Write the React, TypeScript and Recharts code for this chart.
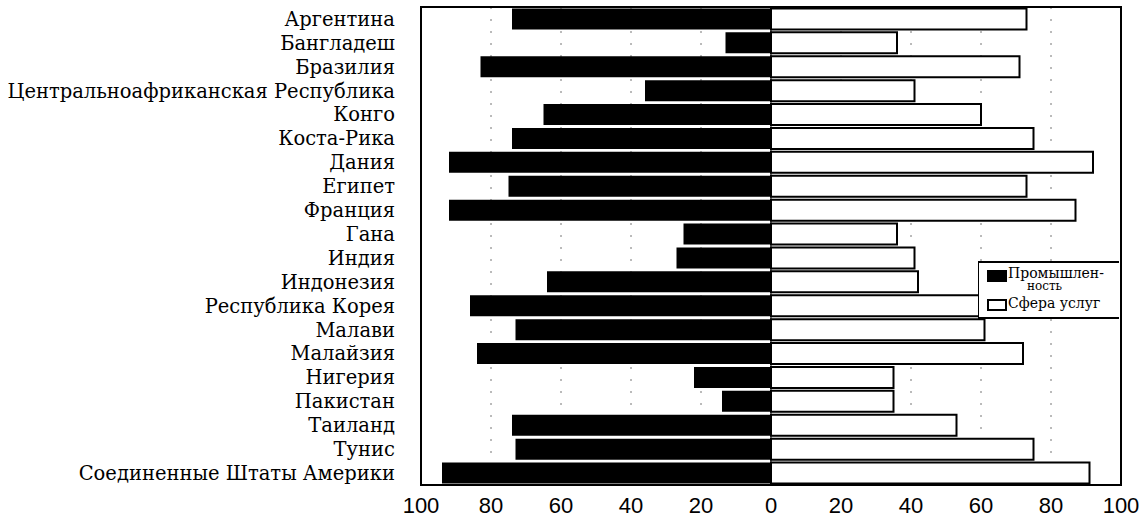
import { BarChart, Bar, XAxis, YAxis, CartesianGrid, ReferenceArea, ReferenceLine } from "recharts";

const countries = [
  "Аргентина",
  "Бангладеш",
  "Бразилия",
  "Центральноафриканская Республика",
  "Конго",
  "Коста-Рика",
  "Дания",
  "Египет",
  "Франция",
  "Гана",
  "Индия",
  "Индонезия",
  "Республика Корея",
  "Малави",
  "Малайзия",
  "Нигерия",
  "Пакистан",
  "Таиланд",
  "Тунис",
  "Соединенные Штаты Америки",
];

// Промышленность (drawn to the left)
const industry = [74, 13, 83, 36, 65, 74, 92, 75, 92, 25, 27, 64, 86, 73, 84, 22, 14, 74, 73, 94];
// Сфера услуг (drawn to the right)
const services = [73, 36, 71, 41, 60, 75, 92, 73, 87, 36, 41, 42, 64, 61, 72, 35, 35, 53, 75, 91];

const xTicks = [-100, -80, -60, -40, -20, 0, 20, 40, 60, 80, 100];

const data = countries.map((name, i) => ({
  name,
  industry: -industry[i],
  services: services[i],
}));

const serif = "'DejaVu Serif', serif";

function LegendBox() {
  return (
    <div
      style={{
        position: "absolute",
        left: 978,
        top: 261,
        width: 141,
        height: 58,
        background: "#fff",
        borderTop: "2px solid #000",
        borderBottom: "2px solid #000",
        borderLeft: "1px solid #000",
        boxSizing: "border-box",
        fontFamily: serif,
        fontSize: 14,
        color: "#000",
      }}
    >
      <div style={{ position: "absolute", left: 8, top: 7, width: 20, height: 12, background: "#000" }} />
      <div style={{ position: "absolute", left: 29, top: 3, lineHeight: "14px", whiteSpace: "nowrap" }}>Промышлен-</div>
      <div style={{ position: "absolute", left: 48, top: 17, lineHeight: "12px", fontSize: 12, whiteSpace: "nowrap" }}>ность</div>
      <div
        style={{
          position: "absolute",
          left: 8,
          top: 36,
          width: 20,
          height: 12,
          border: "2px solid #000",
          boxSizing: "border-box",
        }}
      />
      <div style={{ position: "absolute", left: 29, top: 33, lineHeight: "15px", whiteSpace: "nowrap" }}>Сфера услуг</div>
    </div>
  );
}

export default function App() {
  return (
    <div style={{ position: "absolute", left: 0, top: 0, width: 1140, height: 522, background: "#fff" }}>
      <BarChart
        width={1140}
        height={522}
        data={data}
        layout="vertical"
        stackOffset="sign"
        barCategoryGap="6%"
        margin={{ top: 7, right: 19, left: 0, bottom: 0 }}
      >
        <CartesianGrid horizontal={false} stroke="#777" strokeDasharray="2 10" />
        <XAxis
          type="number"
          domain={[-100, 100]}
          ticks={xTicks}
          tickFormatter={(v) => String(Math.abs(v))}
          tick={{ fontSize: 22, fill: "#000", fontFamily: "'Liberation Sans', Arial, sans-serif" }}
          axisLine={false}
          tickLine={false}
          height={37}
          tickMargin={6}
        />
        <YAxis
          type="category"
          dataKey="name"
          width={421}
          tick={{ fontSize: 19.5, fill: "#000", fontFamily: serif }}
          axisLine={false}
          tickLine={false}
          tickMargin={20}
          interval={0}
        />
        <Bar dataKey="industry" stackId="a" fill="#000" isAnimationActive={false} />
        <Bar dataKey="services" stackId="a" fill="#fff" stroke="#000" strokeWidth={2} isAnimationActive={false} />
        <ReferenceLine x={0} stroke="#000" strokeWidth={1} />
        <ReferenceArea x1={-100} x2={100} fill="none" stroke="#000" strokeWidth={2} fillOpacity={0} />
      </BarChart>
      <LegendBox />
    </div>
  );
}
